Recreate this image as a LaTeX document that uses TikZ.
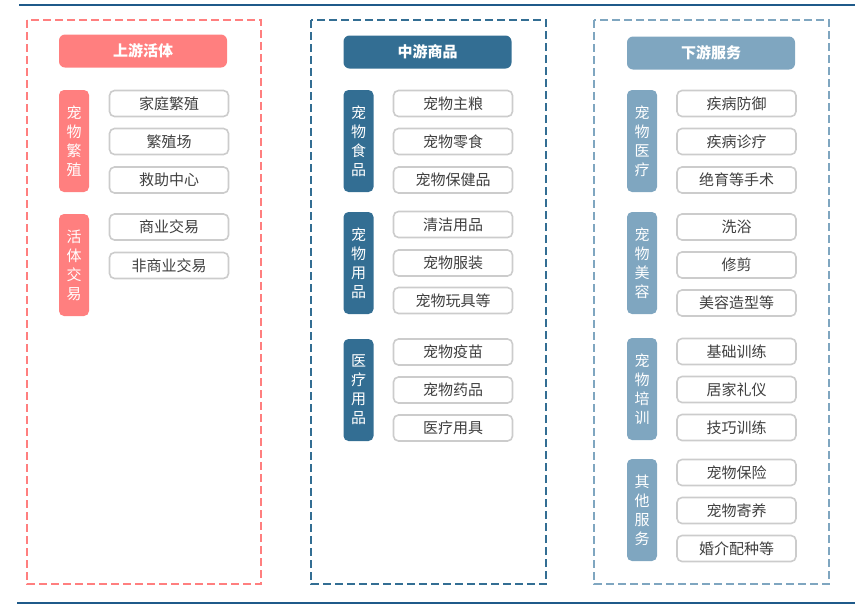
\documentclass[tikz,border=0pt]{standalone}
\usepackage{fontspec}
\setmainfont{Noto Sans CJK SC}
\definecolor{cpink}{HTML}{FF7F7F}
\definecolor{cdark}{HTML}{336E93}
\definecolor{clight}{HTML}{7FA6C0}
\definecolor{cline}{HTML}{1F5A8A}
\definecolor{ctext}{HTML}{404040}
\definecolor{cborder}{HTML}{CCCCCC}
\tikzset{
  itembox/.style={draw=cborder, line width=1.6pt, rounded corners=5pt, fill=white,
    minimum width=119pt, minimum height=26pt, inner sep=0pt, text=ctext,
    font=\fontsize{15}{16}\selectfont},
  sidebox/.style={fill=#1, rounded corners=5pt, minimum width=30pt, minimum height=102pt,
    inner sep=0pt, text=white, align=center, font=\fontsize{15}{19}\selectfont},
  headbox/.style={fill=#1, rounded corners=6pt, minimum width=168pt, minimum height=33pt,
    inner sep=0pt, text=white, font=\bfseries\fontsize{15}{16}\selectfont},
  frame/.style={draw=#1, line width=2.5pt, dash pattern=on 8pt off 4pt},
  rule/.style={draw=cline, line width=2pt}
}
\begin{document}
\begin{tikzpicture}[x=1pt,y=-1pt]
\useasboundingbox (0,0) rectangle (864,611);
% rules
\coordinate (tl) at (19,5); \coordinate (tr) at (855,5);
\coordinate (bl) at (17,603); \coordinate (br) at (855,603);
\draw[rule] (tl) -- (tr);
\draw[rule] (bl) -- (br);
% frames
\draw[frame=cpink] (27,20) rectangle (261,584);
\draw[frame=cdark] (311,20) rectangle (546,584);
\draw[frame=clight] (594,20) rectangle (829,584);
% headers
\node[headbox=cpink] (h1) at (143,51) {上游活体};
\node[headbox=cdark] (h2) at (427.5,52) {中游商品};
\node[headbox=clight] (h3) at (711,53) {下游服务};
% left column
\node[sidebox=cpink] (l1) at (74,141) {宠\\物\\繁\\殖};
\node[itembox] (l1a) at (169,103.5) {家庭繁殖};
\node[itembox] (l1b) at (169,141.5) {繁殖场};
\node[itembox] (l1c) at (169,180) {救助中心};
\node[sidebox=cpink] (l2) at (74,265) {活\\体\\交\\易};
\node[itembox] (l2a) at (169,227) {商业交易};
\node[itembox] (l2b) at (169,265.5) {非商业交易};
% middle column
\node[sidebox=cdark] (m1) at (358.5,141) {宠\\物\\食\\品};
\node[itembox] (m1a) at (453,103.5) {宠物主粮};
\node[itembox] (m1b) at (453,141.5) {宠物零食};
\node[itembox] (m1c) at (453,180) {宠物保健品};
\node[sidebox=cdark] (m2) at (358.5,263) {宠\\物\\用\\品};
\node[itembox] (m2a) at (453,224.5) {清洁用品};
\node[itembox] (m2b) at (453,263) {宠物服装};
\node[itembox] (m2c) at (453,300.5) {宠物玩具等};
\node[sidebox=cdark] (m3) at (358.5,390) {医\\疗\\用\\品};
\node[itembox] (m3a) at (453,352) {宠物疫苗};
\node[itembox] (m3b) at (453,390) {宠物药品};
\node[itembox] (m3c) at (453,428) {医疗用具};
% right column
\node[sidebox=clight] (r1) at (642,141) {宠\\物\\医\\疗};
\node[itembox] (r1a) at (736.5,103.5) {疾病防御};
\node[itembox] (r1b) at (736.5,141.5) {疾病诊疗};
\node[itembox] (r1c) at (736.5,180) {绝育等手术};
\node[sidebox=clight] (r2) at (642,263) {宠\\物\\美\\容};
\node[itembox] (r2a) at (736.5,227) {洗浴};
\node[itembox] (r2b) at (736.5,265) {修剪};
\node[itembox] (r2c) at (736.5,303) {美容造型等};
\node[sidebox=clight] (r3) at (642,389) {宠\\物\\培\\训};
\node[itembox] (r3a) at (736.5,351.5) {基础训练};
\node[itembox] (r3b) at (736.5,389.5) {居家礼仪};
\node[itembox] (r3c) at (736.5,427.5) {技巧训练};
\node[sidebox=clight] (r4) at (642,510) {其\\他\\服\\务};
\node[itembox] (r4a) at (736.5,472.5) {宠物保险};
\node[itembox] (r4b) at (736.5,510.5) {宠物寄养};
\node[itembox] (r4c) at (736.5,548.5) {婚介配种等};
\end{tikzpicture}
\end{document}
